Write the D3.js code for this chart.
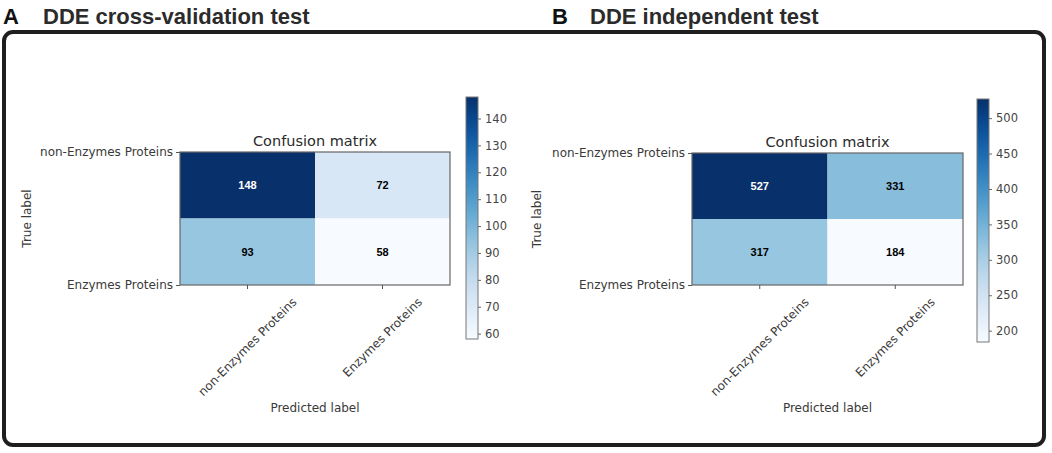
<!DOCTYPE html>
<html>
<head>
<meta charset="utf-8">
<script src="https://cdn.jsdelivr.net/npm/d3@7"></script>
<style>
  body { margin: 0; background: #fff; }
  svg { display: block; }
</style>
</head>
<body>
<svg id="chart"></svg>
<script>
// class labels shared by both matrices
const classLabels = ["non-Enzymes Proteins", "Enzymes Proteins"];

// confusion matrices (rows = true label, cols = predicted label)
const cvValues = [[148, 72], [93, 58]];
const indValues = [[527, 331], [317, 184]];

// colorbar ticks
const cvTicks = [60, 70, 80, 90, 100, 110, 120, 130, 140];
const indTicks = [200, 250, 300, 350, 400, 450, 500];

const width = 1052;
const height = 453;

const svg = d3.select("#chart")
  .attr("width", width)
  .attr("height", height);

const defs = svg.append("defs");

// outer rounded frame
svg.append("rect")
  .attr("x", 4)
  .attr("y", 32)
  .attr("width", 1040)
  .attr("height", 413)
  .attr("rx", 9)
  .attr("fill", "none")
  .attr("stroke", "#1e1e1e")
  .attr("stroke-width", 4);

// panel settings
const panels = [
  {
    letter: "A", letterX: 3, heading: "DDE cross-validation test", headingX: 43,
    values: cvValues, ticks: cvTicks,
    mx: [180, 450], my: [152, 285],
    cb: { x: 466, w: 12, y: [97, 339] },
    trueX: 27
  },
  {
    letter: "B", letterX: 552, heading: "DDE independent test", headingX: 590,
    values: indValues, ticks: indTicks,
    mx: [692, 963], my: [153, 285],
    cb: { x: 977, w: 12, y: [99, 342] },
    trueX: 537
  }
];

const axisFont = "'DejaVu Sans', sans-serif";
const textGrey = "#3a3a3a";
const labelSize = 12;

panels.forEach((p, idx) => {
  // headings
  svg.append("text")
    .attr("x", p.letterX)
    .attr("y", 24)
    .attr("font-family", "'Liberation Sans', Arial, sans-serif")
    .attr("font-weight", "bold")
    .attr("font-size", 22)
    .attr("fill", "#111")
    .text(p.letter);

  svg.append("text")
    .attr("x", p.headingX)
    .attr("y", 24)
    .attr("font-family", "'Liberation Sans', Arial, sans-serif")
    .attr("font-weight", "bold")
    .attr("font-size", 22)
    .attr("fill", "#2b2b2b")
    .text(p.heading);

  const flat = p.values.flat();
  const vmin = d3.min(flat);
  const vmax = d3.max(flat);
  const color = d3.scaleSequential(d3.interpolateBlues).domain([vmin, vmax]);

  const x = d3.scaleBand().domain([0, 1]).range(p.mx);
  const y = d3.scaleBand().domain([0, 1]).range(p.my);
  // y tick labels sit on the matrix edges (as in the original figure)
  const yTick = d3.scalePoint().domain(classLabels).range(p.my);

  const g = svg.append("g");

  const cells = [];
  p.values.forEach((row, r) => row.forEach((v, c) => cells.push({ r, c, v })));

  g.selectAll(".cell")
    .data(cells)
    .enter().append("rect")
    .attr("class", "cell")
    .attr("x", d => x(d.c))
    .attr("y", d => y(d.r))
    .attr("width", x.bandwidth())
    .attr("height", y.bandwidth())
    .attr("fill", d => color(d.v));

  const thresh = (vmin + vmax) / 2;
  g.selectAll(".val")
    .data(cells)
    .enter().append("text")
    .attr("class", "val")
    .attr("x", d => x(d.c) + x.bandwidth() / 2)
    .attr("y", d => y(d.r) + y.bandwidth() / 2)
    .attr("text-anchor", "middle")
    .attr("dominant-baseline", "central")
    .attr("font-family", "'Liberation Sans', Arial, sans-serif")
    .attr("font-weight", "bold")
    .attr("font-size", 11)
    .attr("fill", d => d.v > thresh ? "#fff" : "#000")
    .text(d => d.v);

  // matrix border
  g.append("rect")
    .attr("x", p.mx[0])
    .attr("y", p.my[0])
    .attr("width", p.mx[1] - p.mx[0])
    .attr("height", p.my[1] - p.my[0])
    .attr("fill", "none")
    .attr("stroke", "#666")
    .attr("stroke-width", 1.2);

  // title
  g.append("text")
    .attr("x", (p.mx[0] + p.mx[1]) / 2)
    .attr("y", p.my[0] - 6)
    .attr("text-anchor", "middle")
    .attr("font-family", axisFont)
    .attr("font-size", 14.5)
    .attr("fill", "#2a2a2a")
    .text("Confusion matrix");

  // y axis
  const yAxis = g.append("g")
    .attr("transform", `translate(${p.mx[0]},0)`)
    .call(d3.axisLeft(yTick).tickSize(4).tickPadding(3));
  yAxis.select(".domain").remove();
  yAxis.selectAll("line").attr("stroke", "#555");
  yAxis.selectAll("text")
    .attr("font-family", axisFont)
    .attr("font-size", labelSize)
    .attr("fill", textGrey);

  // x axis ticks
  const xTicks = g.append("g");
  xTicks.selectAll("line")
    .data(classLabels)
    .enter().append("line")
    .attr("x1", (d, i) => x(i) + x.bandwidth() / 2)
    .attr("x2", (d, i) => x(i) + x.bandwidth() / 2)
    .attr("y1", p.my[1])
    .attr("y2", p.my[1] + 4)
    .attr("stroke", "#555");

  // rotated x labels, bounding box centered on the tick
  xTicks.selectAll("g.xl")
    .data(classLabels)
    .enter().append("g")
    .attr("class", "xl")
    .each(function(d, i) {
      const t = d3.select(this).append("text")
        .attr("text-anchor", "middle")
        .attr("dominant-baseline", "central")
        .attr("font-family", axisFont)
        .attr("font-size", labelSize)
        .attr("fill", textGrey)
        .attr("transform", "rotate(-45)")
        .text(d);
      const len = t.node().getComputedTextLength();
      const h = (len + 14) * Math.SQRT1_2;
      d3.select(this).attr("transform",
        `translate(${x(i) + x.bandwidth() / 2},${p.my[1] + 10 + h / 2})`);
    });

  g.append("text")
    .attr("x", (p.mx[0] + p.mx[1]) / 2)
    .attr("y", 408)
    .attr("text-anchor", "middle")
    .attr("dominant-baseline", "central")
    .attr("font-family", axisFont)
    .attr("font-size", labelSize)
    .attr("fill", textGrey)
    .text("Predicted label");

  g.append("text")
    .attr("transform", `translate(${p.trueX},${(p.my[0] + p.my[1]) / 2}) rotate(-90)`)
    .attr("text-anchor", "middle")
    .attr("dominant-baseline", "central")
    .attr("font-family", axisFont)
    .attr("font-size", labelSize)
    .attr("fill", textGrey)
    .text("True label");

  // colorbar
  const gradId = "grad" + idx;
  const grad = defs.append("linearGradient")
    .attr("id", gradId)
    .attr("x1", 0).attr("y1", 1)
    .attr("x2", 0).attr("y2", 0);
  d3.range(0, 1.0001, 0.05).forEach(t => {
    grad.append("stop")
      .attr("offset", t)
      .attr("stop-color", d3.interpolateBlues(t));
  });

  const cbScale = d3.scaleLinear().domain([vmin, vmax]).range([p.cb.y[1], p.cb.y[0]]);

  g.append("rect")
    .attr("x", p.cb.x)
    .attr("y", p.cb.y[0])
    .attr("width", p.cb.w)
    .attr("height", p.cb.y[1] - p.cb.y[0])
    .attr("fill", `url(#${gradId})`)
    .attr("stroke", "#777")
    .attr("stroke-width", 1);

  const cbAxis = g.append("g")
    .attr("transform", `translate(${p.cb.x + p.cb.w},0)`)
    .call(d3.axisRight(cbScale).tickValues(p.ticks).tickSize(3).tickPadding(4));
  cbAxis.select(".domain").remove();
  cbAxis.selectAll("line").attr("stroke", "#666");
  cbAxis.selectAll("text")
    .attr("font-family", axisFont)
    .attr("font-size", 11.5)
    .attr("fill", "#444");
});
</script>
</body>
</html>
